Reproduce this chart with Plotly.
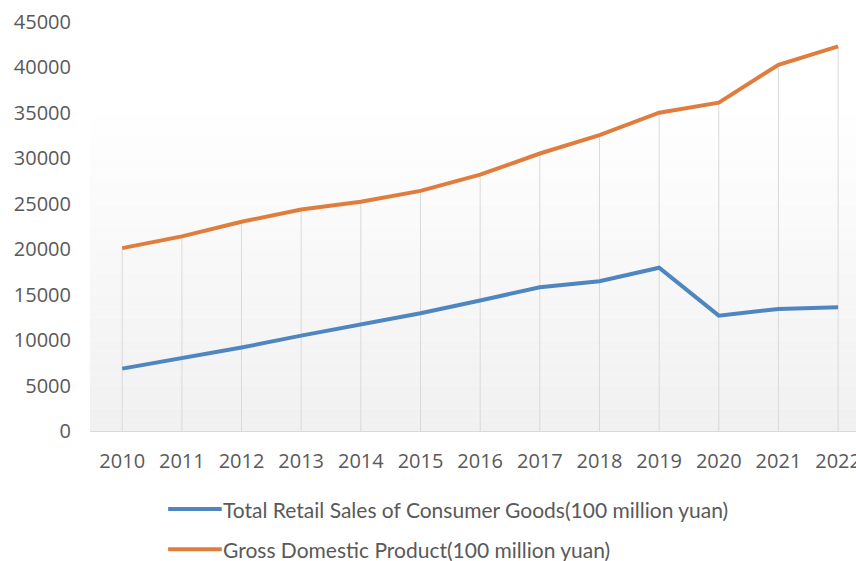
import plotly.graph_objects as go

# Annual figures, 100 million yuan
years = ["2010", "2011", "2012", "2013", "2014", "2015", "2016",
         "2017", "2018", "2019", "2020", "2021", "2022"]
retail_sales = [6860, 7980, 9180, 10490, 11770, 12960, 14360,
                15820, 16480, 17960, 12690, 13430, 13610]
gdp = [20120, 21410, 23020, 24370, 25230, 26420, 28200,
       30530, 32560, 35020, 36130, 40290, 42320]

retail_name = "Total Retail Sales of Consumer Goods(100 million yuan)"
gdp_name = "Gross Domestic Product(100 million yuan)"
y_ticks = list(range(0, 45001, 5000))

BLUE = "#4F86BF"
ORANGE = "#E07D3C"
GREY_TEXT = "#595959"

fig = go.Figure()

# drop lines from the axis up to the higher series in each year
drop_x, drop_y = [], []
for yr, a, b in zip(years, retail_sales, gdp):
    drop_x += [yr, yr, None]
    drop_y += [0, max(a, b), None]
fig.add_trace(go.Scatter(x=drop_x, y=drop_y, mode="lines", hoverinfo="skip",
                         line=dict(color="#d9d9d9", width=1), showlegend=False))

fig.add_trace(go.Scatter(x=years, y=retail_sales, name=retail_name, mode="lines",
                         line=dict(color=BLUE, width=4), showlegend=False))
fig.add_trace(go.Scatter(x=years, y=gdp, name=gdp_name, mode="lines",
                         line=dict(color=ORANGE, width=4), showlegend=False))

# soft vertical gradient behind the lower part of the plot area
bands = 30
top_frac = 0.83
for i in range(bands):
    y0 = top_frac * i / bands
    y1 = top_frac * (i + 1) / bands
    t = i / (bands - 1)
    v = int(round(241 + (255 - 241) * t))
    fig.add_shape(type="rect", xref="paper", yref="paper", x0=0, x1=1, y0=y0, y1=y1,
                  fillcolor=f"rgb({v},{v},{v})", line=dict(width=0), layer="below")

# legend drawn underneath the chart: a colour swatch and the series name per row
legend_rows = [(retail_name, BLUE, -0.191), (gdp_name, ORANGE, -0.289)]
for label, color, ly in legend_rows:
    fig.add_shape(type="line", xref="paper", yref="paper", x0=0.102, x1=0.172,
                  y0=ly, y1=ly, line=dict(color=color, width=4))
    fig.add_annotation(xref="paper", yref="paper", x=0.171, y=ly, xanchor="left",
                       yanchor="middle", text=label, showarrow=False,
                       font=dict(family="Lato", size=21, color=GREY_TEXT))

fig.update_layout(
    width=856, height=561,
    margin=dict(l=90, r=0, t=22, b=130, autoexpand=False),
    paper_bgcolor="white", plot_bgcolor="white",
    font=dict(family="Open Sans", color=GREY_TEXT),
    showlegend=False,
)
fig.update_xaxes(type="category", range=[-0.54, 12.3], showgrid=False, automargin=False,
                 showline=True, linecolor="#d9d9d9",
                 linewidth=1, ticks="", ticklabelstandoff=12, ticklabeloverflow="allow",
                 tickfont=dict(family="Open Sans", size=20, color=GREY_TEXT), zeroline=False)
fig.update_yaxes(range=[0, 45000], tickvals=y_ticks, ticktext=[str(v) for v in y_ticks],
                 showgrid=False, zeroline=False, showline=False, ticks="", automargin=False,
                 ticklabelstandoff=18,
                 tickfont=dict(family="Open Sans", size=20, color=GREY_TEXT))

fig.write_html("out.html")
